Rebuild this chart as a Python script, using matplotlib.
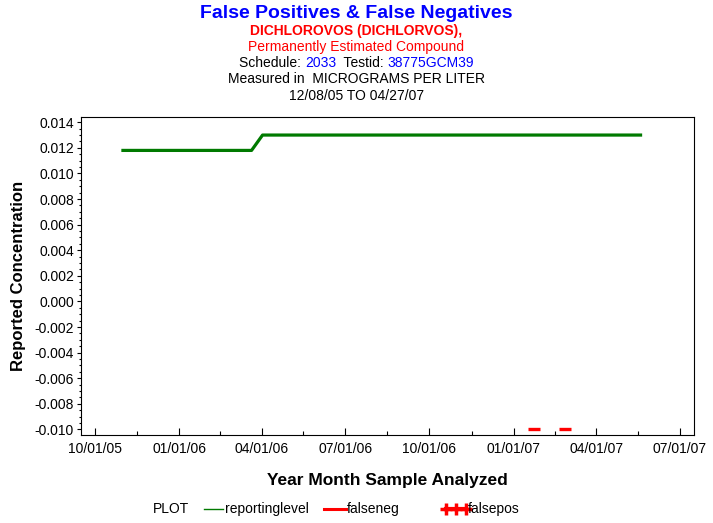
"""False positives / false negatives chart for DICHLOROVOS."""

import matplotlib
matplotlib.use("Agg")
import matplotlib.pyplot as plt
from matplotlib.lines import Line2D
from matplotlib.ticker import MultipleLocator, AutoMinorLocator, FuncFormatter
import numpy as np
import pandas as pd

plt.rcParams["font.family"] = ["Liberation Sans", "DejaVu Sans"]

# Data
report_dates = pd.to_datetime(["2005-10-30", "2006-03-21", "2006-04-02", "2007-05-21"])
report_level = [0.0118, 0.0118, 0.0130, 0.0130]

falseneg_dates = pd.to_datetime(["2007-01-23", "2007-02-26"])
falseneg_vals = [-0.010, -0.010]

xtick_dates = pd.date_range("2005-10-01", "2007-07-01", freq="QS-OCT")

W, H = 713, 523
fig = plt.figure(figsize=(W / 100, H / 100), dpi=100)
ax = fig.add_axes([81 / W, 1 - 435 / H, (693.5 - 81) / W, (435 - 117) / H])

# Series
ax.plot(report_dates, report_level, color="#007a00", linewidth=2.3, solid_capstyle="butt")
ax.plot(falseneg_dates, falseneg_vals, linestyle="none", marker="_",
        color="red", markersize=8, markeredgewidth=2.4)

# Y axis
ax.set_ylim(-0.01043, 0.01441)
ax.yaxis.set_major_locator(MultipleLocator(0.002))
ax.yaxis.set_minor_locator(AutoMinorLocator(4))
ax.yaxis.set_major_formatter(FuncFormatter(lambda v, p: f"{v:.3f}" if abs(v) > 1e-9 else "0.000"))
ax.tick_params(axis="y", which="major", direction="out", length=3, width=0.8, labelsize=10, pad=2)
ax.tick_params(axis="y", which="minor", direction="out", length=1.5, width=0.8)

# X axis
ax.set_xlim(pd.Timestamp("2005-09-16"), pd.Timestamp("2007-07-16"))
ax.set_xticks(xtick_dates)
ax.set_xticklabels([d.strftime("%m/%d/%y") for d in xtick_dates])
mids = [xtick_dates[i] + (xtick_dates[i + 1] - xtick_dates[i]) / 2 for i in range(len(xtick_dates) - 1)]
ax.set_xticks(mids, minor=True)
ax.tick_params(axis="x", which="major", direction="in", length=4.8, width=0.8, labelsize=10, pad=5)
ax.tick_params(axis="x", which="minor", direction="in", length=3.2, width=0.8)

for s in ax.spines.values():
    s.set_linewidth(0.8)

ax.set_xlabel("Year Month Sample Analyzed", fontsize=12.5, fontweight="bold", labelpad=12)
ax.set_ylabel("Reported Concentration", fontsize=12, fontweight="bold", labelpad=6)

# Titles
fig.text(0.5, 1 - 13 / H, "False Positives & False Negatives", ha="center", va="center",
         fontsize=14, fontweight="bold", color="blue")
fig.text(0.5, 1 - 31 / H, "DICHLOROVOS (DICHLORVOS),", ha="center", va="center",
         fontsize=10, fontweight="bold", color="red")
fig.text(0.5, 1 - 47 / H, "Permanently Estimated Compound", ha="center", va="center",
         fontsize=10, color="red")
fig.text(0.5, 1 - 79 / H, "Measured in  MICROGRAMS PER LITER", ha="center", va="center",
         fontsize=10, color="black")
fig.text(0.5, 1 - 96 / H, "12/08/05 TO 04/27/07", ha="center", va="center",
         fontsize=10, color="black")

# Mixed-colour schedule line: place each piece from the width of the text before it
parts = [("Schedule: ", "black"), ("2033", "blue"), ("  Testid: ", "black"), ("38775GCM39", "blue")]
renderer = fig.canvas.get_renderer()


def text_width(s):
    t = fig.text(0, 0, s, fontsize=10)
    w = t.get_window_extent(renderer).width
    t.remove()
    return w


full = "".join(p for p, _ in parts)
x0 = (W - text_width(full)) / 2
prefix = ""
for s, c in parts:
    start = text_width(prefix + s.strip()) - text_width(s.strip()) if prefix else 0
    fig.text((x0 + start) / W, 1 - 63 / H, s, ha="left", va="center", fontsize=10, color=c)
    prefix += s

# Legend row
ly = 1 - 509 / H
fig.text(153 / W, ly, "PLOT", ha="left", va="center", fontsize=10)
fig.add_artist(Line2D([204 / W, 223 / W], [ly, ly], color="#007a00", linewidth=1))
fig.text(225 / W, ly, "reportinglevel", ha="left", va="center", fontsize=10)
fig.add_artist(Line2D([324 / W, 346 / W], [ly, ly], color="red", linewidth=2.2))
fig.text(347 / W, ly, "falseneg", ha="left", va="center", fontsize=10)
fig.add_artist(Line2D(np.linspace(446 / W, 466 / W, 3), [ly] * 3, color="red", linewidth=3,
                      marker="+", markersize=8, markeredgewidth=2.5))
fig.text(468 / W, ly, "falsepos", ha="left", va="center", fontsize=10)

fig.savefig("out.png", dpi=100)
